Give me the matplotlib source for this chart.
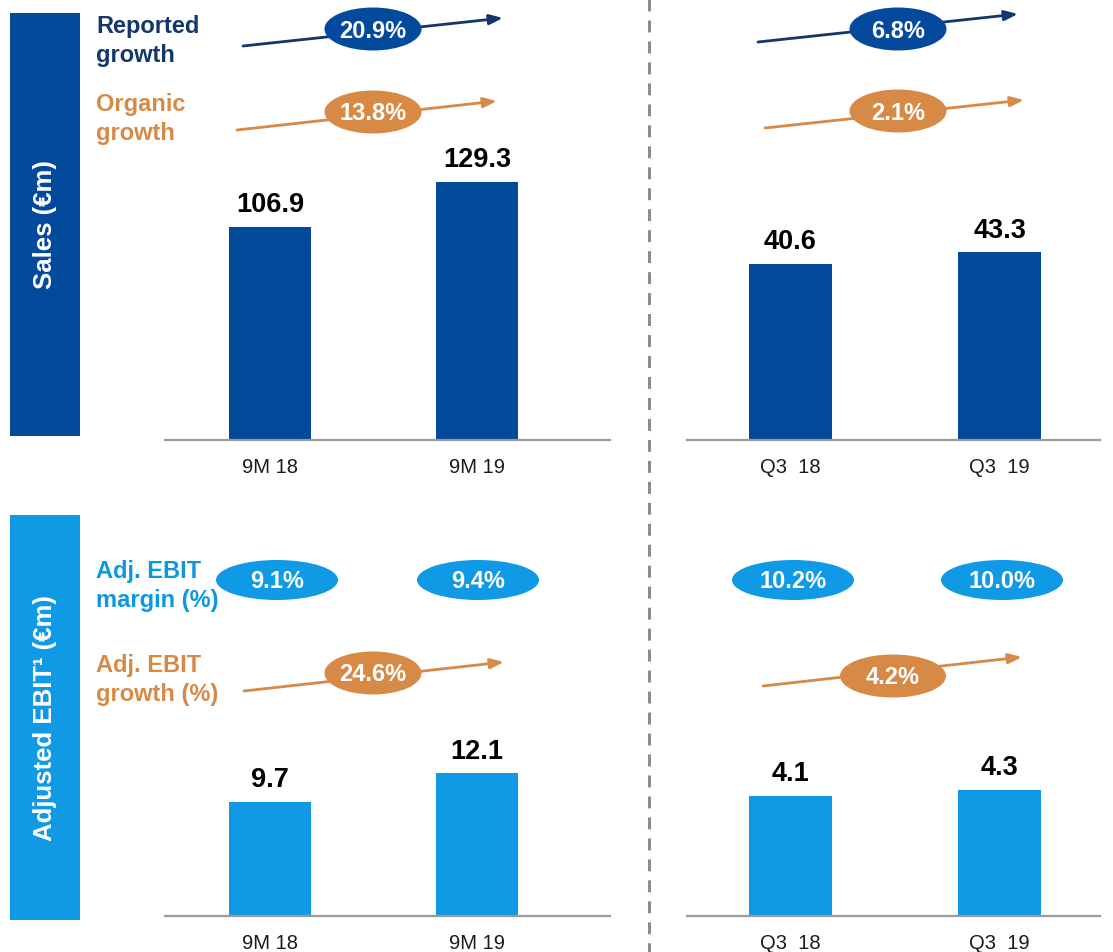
import matplotlib
matplotlib.use("Agg")

import matplotlib.pyplot as plt
from matplotlib.patches import Ellipse, Rectangle

plt.rcParams["font.family"] = ["Liberation Sans", "DejaVu Sans"]
plt.rcParams["lines.scale_dashes"] = False

# ---------------------------------------------------------------------------
# Data
# ---------------------------------------------------------------------------
PERIODS_9M = ["9M 18", "9M 19"]
PERIODS_Q3 = ["Q3  18", "Q3  19"]

SALES_9M = [106.9, 129.3]
SALES_Q3 = [40.6, 43.3]
EBIT_9M = [9.7, 12.1]
EBIT_Q3 = [4.1, 4.3]

REPORTED_GROWTH = ["20.9%", "6.8%"]   # 9M, Q3
ORGANIC_GROWTH = ["13.8%", "2.1%"]    # 9M, Q3
EBIT_GROWTH = ["24.6%", "4.2%"]       # 9M, Q3
EBIT_MARGIN_9M = ["9.1%", "9.4%"]
EBIT_MARGIN_Q3 = ["10.2%", "10.0%"]

# ---------------------------------------------------------------------------
# Style
# ---------------------------------------------------------------------------
DARK_BLUE = "#034a9c"
NAVY = "#14366b"
LIGHT_BLUE = "#109ae6"
LIGHT_TEXT = "#0d97e1"
ORANGE = "#d68a45"
AXIS_GREY = "#9a9a9a"
DASH_GREY = "#8c8c8c"

W, H = 1113, 953
fig = plt.figure(figsize=(W / 100, H / 100), dpi=100, facecolor="white")


def px_rect(x0, x1, ytop, ybase):
    return [x0 / W, (H - ybase) / H, (x1 - x0) / W, (ybase - ytop) / H]


def bar_panel(rect, xlim, ymax, cats, vals, color):
    ax = fig.add_axes(rect)
    ax.bar(range(len(vals)), vals, width=0.4, color=color, zorder=2)
    ax.set_xlim(*xlim)
    ax.set_ylim(0, ymax)
    ax.set_xticks(range(len(cats)))
    ax.set_xticklabels(cats, fontsize=14.5, color="#1a1a1a")
    ax.tick_params(axis="x", length=0, pad=12)
    ax.set_yticks([])
    for side in ("top", "right", "left"):
        ax.spines[side].set_visible(False)
    ax.spines["bottom"].set_color(AXIS_GREY)
    ax.spines["bottom"].set_linewidth(1.6)
    ax.patch.set_alpha(0)
    for i, v in enumerate(vals):
        ax.annotate(f"{v}", (i, v), xytext=(0, 7), textcoords="offset points",
                    ha="center", va="bottom", fontsize=19.5, fontweight="bold",
                    color="black")
    return ax


# ── Bar panels ──────────────────────────────────────────────────────────────
bar_panel(px_rect(165, 610, 0, 441), (-0.507, 1.643), 221.2,
          PERIODS_9M, SALES_9M, DARK_BLUE)
bar_panel(px_rect(687, 1100, 0, 441), (-0.495, 1.48), 101.8,
          PERIODS_Q3, SALES_Q3, DARK_BLUE)
bar_panel(px_rect(165, 610, 480, 917), (-0.507, 1.643), 37.07,
          PERIODS_9M, EBIT_9M, LIGHT_BLUE)
bar_panel(px_rect(687, 1100, 480, 917), (-0.495, 1.48), 14.9,
          PERIODS_Q3, EBIT_Q3, LIGHT_BLUE)

# ── Overlay in pixel coordinates ────────────────────────────────────────────
ov = fig.add_axes([0, 0, 1, 1], zorder=5)
ov.set_xlim(0, W)
ov.set_ylim(H, 0)
ov.axis("off")
ov.patch.set_alpha(0)

# side bands
ov.add_patch(Rectangle((10, 14), 70, 423, color=DARK_BLUE, lw=0))
ov.add_patch(Rectangle((10, 516), 70, 405, color=LIGHT_BLUE, lw=0))
ov.text(45, 225, "Sales (€m)", rotation=90, ha="center", va="center",
        color="white", fontsize=18.5, fontweight="bold")
ov.text(45, 718, "Adjusted EBIT¹ (€m)", rotation=90, ha="center", va="center",
        color="white", fontsize=18.5, fontweight="bold")

# divider
ov.plot([649, 649], [0, H], color=DASH_GREY, lw=2.2, dashes=(8.6, 6.5))

# row labels
LABEL_KW = dict(ha="left", va="center", fontsize=17, fontweight="bold",
                linespacing=1.3)
ov.text(96, 41, "Reported\ngrowth", color=NAVY, **LABEL_KW)
ov.text(96, 119, "Organic\ngrowth", color=ORANGE, **LABEL_KW)
ov.text(96, 586, "Adj. EBIT\nmargin (%)", color=LIGHT_TEXT, **LABEL_KW)
ov.text(96, 680, "Adj. EBIT\ngrowth (%)", color=ORANGE, **LABEL_KW)


def growth_arrow(start, end, label, center, color, fill=None, width=97,
                 height=43):
    ov.annotate("", xy=end, xytext=start,
                arrowprops=dict(arrowstyle="-|>,head_length=0.8,head_width=0.3",
                                color=color, lw=2, shrinkA=0, shrinkB=0))
    ov.add_patch(Ellipse(center, width, height, color=fill or color, lw=0,
                         zorder=3))
    ov.text(center[0], center[1] + 1, label, ha="center", va="center",
            color="white", fontsize=17, fontweight="bold", zorder=4)


growth_arrow((243, 47), (503, 19), REPORTED_GROWTH[0], (373, 30), NAVY,
             fill=DARK_BLUE)
growth_arrow((758, 43), (1018, 15), REPORTED_GROWTH[1], (898, 30), NAVY,
             fill=DARK_BLUE)
growth_arrow((237, 131), (497, 102), ORGANIC_GROWTH[0], (373, 113), ORANGE)
growth_arrow((765, 129), (1024, 101), ORGANIC_GROWTH[1], (898, 112), ORANGE)
growth_arrow((244, 692), (504, 663), EBIT_GROWTH[0], (373, 674), ORANGE)
growth_arrow((763, 687), (1022, 658), EBIT_GROWTH[1], (893, 677), ORANGE,
             width=106)

for cx, lab in zip((277, 478), EBIT_MARGIN_9M):
    ov.add_patch(Ellipse((cx, 581), 122, 40, color=LIGHT_BLUE, lw=0))
    ov.text(cx, 582, lab, ha="center", va="center", color="white",
            fontsize=17, fontweight="bold")
for cx, lab in zip((793, 1002), EBIT_MARGIN_Q3):
    ov.add_patch(Ellipse((cx, 581), 122, 40, color=LIGHT_BLUE, lw=0))
    ov.text(cx, 582, lab, ha="center", va="center", color="white",
            fontsize=17, fontweight="bold")

fig.savefig("out.png", dpi=100, facecolor="white")
plt.close(fig)
